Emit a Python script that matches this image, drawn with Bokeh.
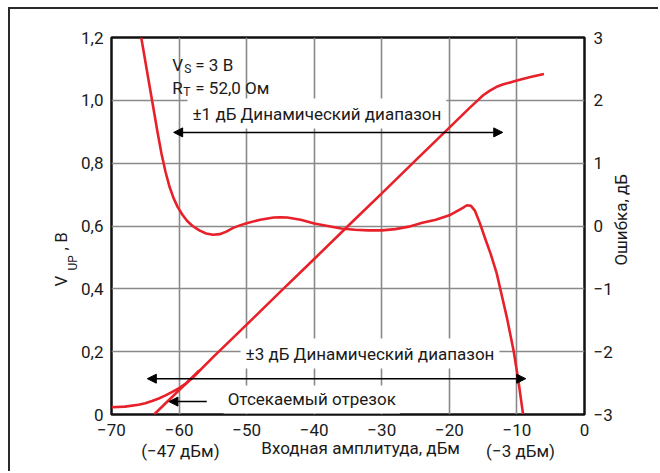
import math
from bokeh.plotting import figure
from bokeh.models import (Range1d, LinearAxis, FixedTicker, CustomJSTickFormatter,
                          Label, Arrow, NormalHead, Title)
from bokeh.embed import file_html
from bokeh.resources import INLINE

# ---------------- data ----------------
vup_x = [-70, -68, -66, -65, -64, -63, -62, -61, -60, -59, -58, -55, -50, -45, -40,
         -35, -30, -25, -20, -17, -16, -15, -14, -13, -12, -11, -10, -9, -8, -7, -6]
vup_y = [0.023, 0.025, 0.031, 0.036, 0.043, 0.051, 0.061, 0.072, 0.084, 0.098, 0.117,
         0.182, 0.286, 0.391, 0.495, 0.600, 0.704, 0.809, 0.913, 0.976, 0.996, 1.016,
         1.031, 1.043, 1.051, 1.057, 1.063, 1.069, 1.074, 1.079, 1.084]

ext_x = [-63.7, -57.0]
ext_y = [0.0, 0.140]

err_x = [-65.6, -64.8, -64.0, -63.2, -62.6, -62.0, -61.4, -60.8, -60.2, -59.5, -58.8,
         -58.0, -57.0, -56.0, -55.0, -54.0, -53.0, -52.0, -51.0, -50.0, -48.0, -46.0,
         -45.0, -44.0, -42.0, -40.0, -38.0, -36.0, -34.0, -32.0, -30.0, -28.0, -26.0,
         -24.0, -22.0, -20.0, -19.0, -18.0, -17.4, -16.8, -16.2, -15.5, -14.6, -13.9,
         -13.0, -12.4, -11.5, -10.5, -9.8, -9.1]
err_y = [3.0, 2.5, 2.0, 1.5, 1.15, 0.86, 0.62, 0.44, 0.30, 0.18, 0.08, 0.0, -0.07,
         -0.12, -0.14, -0.13, -0.09, -0.03, 0.01, 0.045, 0.10, 0.135, 0.14, 0.135, 0.10,
         0.04, 0.0, -0.04, -0.06, -0.07, -0.07, -0.05, -0.01, 0.05, 0.10, 0.17, 0.23,
         0.29, 0.33, 0.32, 0.24, 0.05, -0.23, -0.44, -0.75, -1.03, -1.45, -1.98, -2.45,
         -2.99]

x_ticks = [-70, -60, -50, -40, -30, -20, -10, 0]
left_ticks = [0, 0.2, 0.4, 0.6, 0.8, 1.0, 1.2]
right_ticks = [-3, -2, -1, 0, 1, 2, 3]
note_x = [-59.8, -9.47]
right_title_at = [-0.63]     # where the right-hand title begins, in error units

range1_x = [-60.8, -12.1]
range1_y = 0.898
range3_x = [-64.7, -8.7]
range3_y = 0.114
icpt_x = [-55.9, -61.5]
icpt_y = 0.041

label1 = "\u00b11 дБ Динамический диапазон"
label3 = "\u00b13 дБ Динамический диапазон"
label_icpt = "Отсекаемый отрезок"
x_title = "Входная амплитуда, дБм"
right_title = "Ошибка, дБ"
notes = ["(\u221247 дБм)", "(\u22123 дБм)"]
left_title_main = "V" + "\u00a0" * 6 + ", В"
left_title_sub = "UP"

# ---------------- style ----------------
FONT = "Roboto"
FS = "17px"
SUB = "12px"
RED = "#e8202a"
INK = "#1a1a1a"
W, H = 650, 464
NB = "\u00a0"

p = figure(width=W, height=H, x_range=Range1d(-70, 0), y_range=Range1d(0, 1.2),
           output_backend="svg", toolbar_location=None,
           min_border_left=101, min_border_right=76, min_border_top=28,
           min_border_bottom=59)
p.styles = {"margin-left": "8px", "margin-top": "7px",
            "border-left": "2px solid #2a2a2a", "border-top": "2px solid #2a2a2a"}
p.extra_y_ranges = {"err": Range1d(-3, 3)}
p.outline_line_color = "#111111"
p.outline_line_width = 2.5
p.background_fill_color = "white"
p.border_fill_color = "white"

minus_fmt = ("return tick < 0 ? '\\u2212' + Math.abs(Math.round(tick)) "
             ": '' + Math.round(tick);")

xaxis = p.xaxis[0]
yaxis = p.yaxis[0]
xaxis.ticker = FixedTicker(ticks=x_ticks)
xaxis.formatter = CustomJSTickFormatter(code=minus_fmt)
yaxis.ticker = FixedTicker(ticks=left_ticks)
yaxis.formatter = CustomJSTickFormatter(
    code="return Math.abs(tick) < 1e-9 ? '0' : tick.toFixed(1).replace('.', ',');")

raxis = LinearAxis(y_range_name="err", ticker=FixedTicker(ticks=right_ticks),
                   formatter=CustomJSTickFormatter(code=minus_fmt))
p.add_layout(raxis, "right")

# right-hand title, carried by an extra right axis so it can sit where the reference has it
taxis = LinearAxis(y_range_name="err", ticker=FixedTicker(ticks=right_title_at),
                   formatter=CustomJSTickFormatter(args=dict(t=right_title),
                                                   code="return t;"),
                   major_label_orientation=math.pi / 2)
p.add_layout(taxis, "right")

naxis = LinearAxis(ticker=FixedTicker(ticks=note_x),
                   formatter=CustomJSTickFormatter(args=dict(labels=notes),
                                                   code="return tick < -30 ? labels[0] : labels[1];"))
p.add_layout(naxis, "below")

for ax in [xaxis, yaxis, raxis, naxis, taxis]:
    ax.axis_line_color = None
    ax.major_tick_line_color = None
    ax.minor_tick_line_color = None
    ax.major_tick_out = 0
    ax.major_tick_in = 0
    ax.major_label_text_font = FONT
    ax.major_label_text_font_size = FS
    ax.major_label_text_color = INK
    ax.axis_label_text_font = FONT
    ax.axis_label_text_font_size = FS
    ax.axis_label_text_font_style = "normal"
    ax.axis_label_text_color = INK

xaxis.major_label_standoff = 9
yaxis.major_label_standoff = 8
raxis.major_label_standoff = 9
taxis.major_label_standoff = 6

xaxis.axis_label = NB * 6 + x_title
xaxis.axis_label_standoff = -1
naxis.major_label_standoff = -20

# left axis title with subscript, built from two stacked titles
t_sub = Title(text=left_title_sub, align="left", offset=144, standoff=-2,
              text_font=FONT, text_font_size=SUB, text_font_style="normal",
              text_color=INK)
t_main = Title(text=left_title_main, align="left", offset=128, standoff=-12,
               text_font=FONT, text_font_size=FS, text_font_style="normal",
               text_color=INK)
p.add_layout(t_sub, "left")
p.add_layout(t_main, "left")

p.xgrid.ticker = FixedTicker(ticks=x_ticks)
p.ygrid.ticker = FixedTicker(ticks=left_ticks)
p.grid.grid_line_color = "#8a8a8a"
p.grid.grid_line_width = 1.6

# ---------------- curves ----------------
p.line(vup_x, vup_y, line_color=RED, line_width=2.6)
p.line(ext_x, ext_y, line_color=RED, line_width=2.6)
p.line(err_x, err_y, y_range_name="err", line_color=RED, line_width=2.6)

# ---------------- arrows ----------------
def head():
    return NormalHead(size=9, fill_color="black", line_color="black", line_width=1)

p.add_layout(Arrow(start=head(), end=head(), x_start=range1_x[0], y_start=range1_y,
                   x_end=range1_x[1], y_end=range1_y, line_color="black", line_width=1.5))
p.add_layout(Arrow(start=head(), end=head(), x_start=range3_x[0], y_start=range3_y,
                   x_end=range3_x[1], y_end=range3_y, line_color="black", line_width=1.5))
p.add_layout(Arrow(end=head(), x_start=icpt_x[0], y_start=icpt_y,
                   x_end=icpt_x[1], y_end=icpt_y, line_color="black", line_width=1.5))

# ---------------- text inside the frame ----------------
def lab(text, x, y, size=FS, align="left", base="middle", xo=0, yo=0, bg=None, pad=0):
    kw = {}
    if bg is not None:
        kw["background_fill_color"] = bg
        kw["padding"] = pad
    l = Label(text=text, x=x, y=y, text_font=FONT, text_font_size=size,
              text_color=INK, text_align=align, text_baseline=base,
              x_offset=xo, y_offset=yo, **kw)
    p.add_layout(l)
    return l

lab(label1, -58.75, 0.958, bg="white", pad=5)
lab(label3, -50.9, 0.194, bg="white", pad=5)
lab(label_icpt, -53.4, 0.048, bg="white", pad=4)

# V_S = 3 В and R_T = 52,0 Ом
lab("V", -61.0, 1.114, base="alphabetic")
lab("S", -61.0, 1.114, size=SUB, base="alphabetic", xo=12, yo=-4)
lab("= 3 В", -61.0, 1.114, base="alphabetic", xo=23)
lab("R", -61.0, 1.040, base="alphabetic")
lab("T", -61.0, 1.040, size=SUB, base="alphabetic", xo=11, yo=-4)
lab("= 52,0 Ом", -61.0, 1.040, base="alphabetic", xo=23)

open("out.html", "w").write(file_html(p, INLINE))
